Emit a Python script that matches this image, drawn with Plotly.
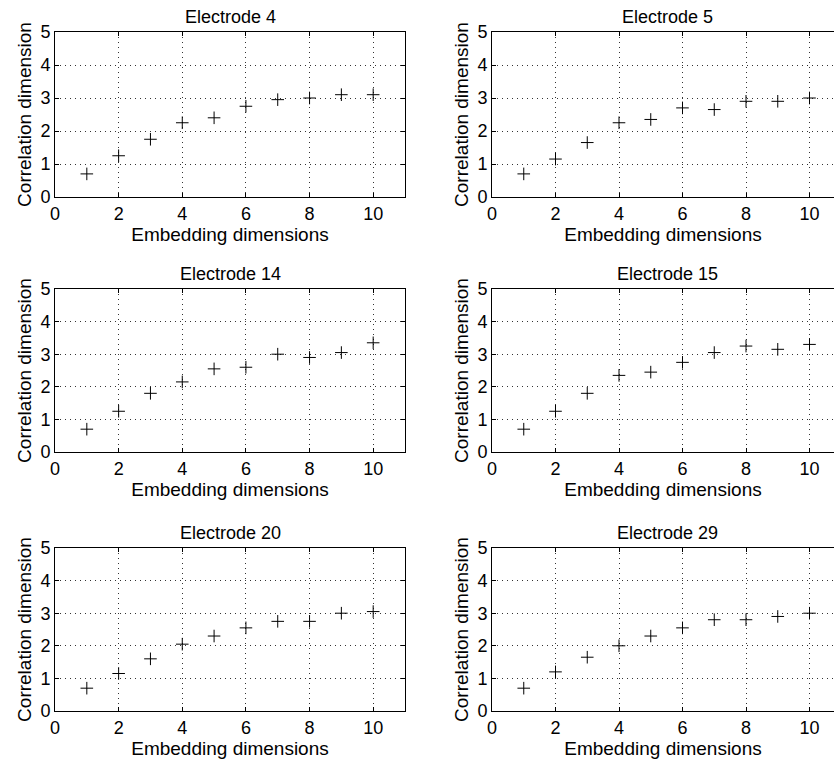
import plotly.graph_objects as go

embedding = [1, 2, 3, 4, 5, 6, 7, 8, 9, 10]
titles = ["Electrode 4", "Electrode 5", "Electrode 14", "Electrode 15", "Electrode 20", "Electrode 29"]
e4 = [0.7, 1.25, 1.75, 2.25, 2.4, 2.75, 2.95, 3.0, 3.1, 3.1]
e5 = [0.7, 1.15, 1.65, 2.25, 2.35, 2.7, 2.65, 2.9, 2.9, 3.0]
e14 = [0.7, 1.25, 1.8, 2.15, 2.55, 2.6, 3.0, 2.9, 3.05, 3.35]
e15 = [0.7, 1.25, 1.8, 2.35, 2.45, 2.75, 3.05, 3.25, 3.15, 3.3]
e20 = [0.7, 1.15, 1.6, 2.05, 2.3, 2.55, 2.75, 2.75, 3.0, 3.05]
e29 = [0.7, 1.2, 1.65, 2.0, 2.3, 2.55, 2.8, 2.8, 2.9, 3.0]
series = [e4, e5, e14, e15, e20, e29]
x_ticks = [0, 2, 4, 6, 8, 10]
y_ticks = [0, 1, 2, 3, 4, 5]

W, H = 834, 764
# left column: full box; right column: box is cropped by the figure's right edge
col_px = [(55, 405), (492, 834)]
col_xmax = [11, (834 - 492) / 31.75]
row_px = [(32, 197), (289, 452), (548, 711)]
FONT = "Liberation Sans, Arial, Helvetica, sans-serif"

fig = go.Figure()
for i, (name, ys) in enumerate(zip(titles, series)):
    r, c = divmod(i, 2)
    n = i + 1
    xa = "x" if n == 1 else f"x{n}"
    ya = "y" if n == 1 else f"y{n}"
    fig.add_trace(go.Scatter(
        x=embedding, y=ys, mode="markers", xaxis=xa, yaxis=ya, cliponaxis=False,
        marker=dict(symbol="cross-thin", size=9, line=dict(width=1, color="black"), color="black"),
        showlegend=False))
    x0, x1 = col_px[c]
    y0, y1 = row_px[r]
    xdom = [x0 / W, x1 / W]
    ydom = [1 - y1 / H, 1 - y0 / H]
    common = dict(showline=True, linecolor="black", linewidth=1,
                  ticks="inside", ticklen=4, tickcolor="black", tickwidth=1,
                  showgrid=True, gridcolor="#333333", griddash="1px,4px", gridwidth=1,
                  zeroline=False, automargin=False,
                  tickfont=dict(family=FONT, size=18, color="black"))
    fig.layout[f"xaxis{'' if n == 1 else n}"] = dict(
        domain=xdom, range=[0, col_xmax[c]], anchor=ya, tickvals=x_ticks, mirror="ticks",
        title=dict(text="Embedding dimensions", standoff=0, font=dict(family=FONT, size=19, color="black")),
        **common)
    fig.layout[f"yaxis{'' if n == 1 else n}"] = dict(
        domain=ydom, range=[0, 5], anchor=xa, tickvals=y_ticks, mirror=("ticks" if c == 0 else False),
        title=dict(text="Correlation dimension", standoff=3, font=dict(family=FONT, size=19, color="black")),
        **common)
    fig.add_annotation(text=name, x=(x0 + (x0 + 350)) / 2 / W, y=ydom[1], xref="paper", yref="paper",
                       xanchor="center", yanchor="bottom", yshift=3, showarrow=False,
                       font=dict(family=FONT, size=18, color="black"))

fig.update_layout(width=W, height=H, margin=dict(l=0, r=0, t=0, b=0), template="none",
                  plot_bgcolor="white", paper_bgcolor="white", showlegend=False)
fig.write_html("out.html", config={"displayModeBar": False},
               post_script="document.body.style.margin='0';document.body.style.overflow='hidden';")
